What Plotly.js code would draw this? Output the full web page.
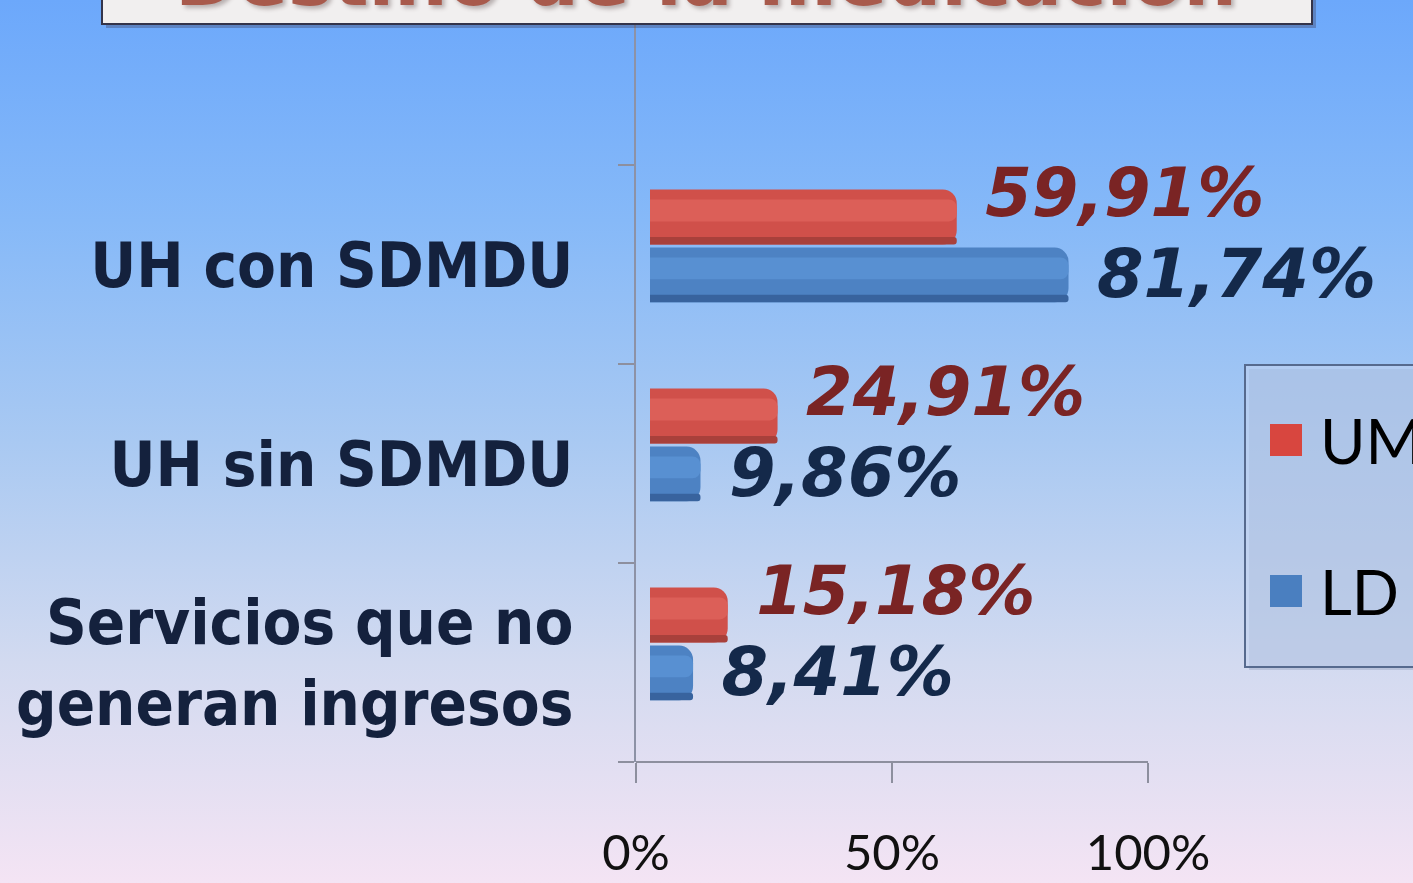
<!DOCTYPE html>
<html>
<head>
<meta charset="utf-8">
<script src="https://cdn.plot.ly/plotly-3.0.1.min.js"></script>
<style>
  html, body { margin: 0; padding: 0; }
  body { width: 1413px; height: 883px; overflow: hidden;
    background: linear-gradient(to bottom, #6ca8fb 0%, #86b9f8 25%, #a9c9f2 50%, #d2daf0 75%, #f4e4f4 100%); }
  #chart { width: 1413px; height: 883px; }
</style>
</head>
<body>
<div id="chart"></div>
<script>
// ---- data ----
const categories = ["Servicios que no<br>generan ingresos", "UH sin SDMDU", "UH con SDMDU"];
const seriesNames = ["UM", "LD"];
const umValues = [15.18, 24.91, 59.91];
const ldValues = [8.41, 9.86, 81.74];
const umLabels = ["15,18%", "24,91%", "59,91%"];
const ldLabels = ["8,41%", "9,86%", "81,74%"];
const tickVals = [0, 50, 100];
const tickLabels = ["0%", "50%", "100%"];
const titleText = "Destino de la medicación";

// ---- styling ----
const pxPerUnit = 5.12;          // pixels per percent
const plotL = 636, plotT = 24, plotB = 121, W = 1413, H = 883;
const plotW = W - plotL, plotH = H - plotT - plotB;
const barShift = 14;             // 3D shift of the bars
const bandPx = 199;
const yTop = -0.5 + plotH / bandPx;

const idx = categories.map((_, i) => i);

function cyl(xs, base, light, dark, off, wid, name) {
  return [
    { type: 'bar', orientation: 'h', x: xs, y: categories, xaxis: 'x2', yaxis: 'y',
      offset: off, width: wid, marker: { color: base, cornerradius: 14, line: { width: 0 } },
      hoverinfo: 'skip', name: name, showlegend: false },
    { type: 'bar', orientation: 'h', x: xs, y: categories, xaxis: 'x2', yaxis: 'y',
      offset: off + wid * 0.42, width: wid * 0.4, marker: { color: light, cornerradius: 8, line: { width: 0 } },
      hoverinfo: 'skip', showlegend: false },
    { type: 'bar', orientation: 'h', x: xs, y: categories, xaxis: 'x2', yaxis: 'y',
      offset: off, width: wid * 0.14, marker: { color: dark, cornerradius: 4, line: { width: 0 } },
      hoverinfo: 'skip', showlegend: false }
  ];
}

const traces = [
  ...cyl(umValues, '#d0504a', '#dc5f58', '#a8403b', 0.10, 0.277, seriesNames[0]),
  ...cyl(ldValues, '#4d82c3', '#5890d2', '#38639e', -0.19, 0.275, seriesNames[1]),
  { type: 'scatter', mode: 'markers+text', x: umValues, y: idx.map(i => i + 0.33), xaxis: 'x2', yaxis: 'y2',
    text: umLabels, textposition: 'middle right', marker: { size: 44, color: 'rgba(0,0,0,0)' },
    textfont: { family: 'DejaVu Sans', size: 67, weight: 'bold', style: 'italic', color: '#7a2424' },
    hoverinfo: 'skip', showlegend: false, cliponaxis: false },
  { type: 'scatter', mode: 'markers+text', x: ldValues, y: idx.map(i => i - 0.08), xaxis: 'x2', yaxis: 'y2',
    text: ldLabels, textposition: 'middle right', marker: { size: 44, color: 'rgba(0,0,0,0)' },
    textfont: { family: 'DejaVu Sans', size: 67, weight: 'bold', style: 'italic', color: '#14294a' },
    hoverinfo: 'skip', showlegend: false, cliponaxis: false }
];

const px2x = p => (p - plotL) / plotW;
const px2y = p => (H - plotB - p) / plotH;

const layout = {
  width: W, height: H,
  margin: { l: plotL, r: 0, t: plotT, b: plotB, pad: 0 },
  paper_bgcolor: 'rgba(0,0,0,0)', plot_bgcolor: 'rgba(0,0,0,0)',
  barmode: 'overlay',
  showlegend: false,
  xaxis: { range: [0, plotW / pxPerUnit], tickvals: tickVals, ticktext: tickLabels,
    ticks: 'outside', ticklen: 20, tickwidth: 2, tickcolor: '#8d8f9e',
    showline: false, showgrid: false, zeroline: false, ticklabelstandoff: 28,
    tickfont: { family: 'Lato', size: 49, color: '#111' }, fixedrange: true },
  xaxis2: { anchor: 'y', domain: [barShift / plotW, 1], range: [0, (plotW - barShift) / pxPerUnit],
    visible: false, fixedrange: true },
  yaxis: { type: 'category', categoryorder: 'array', categoryarray: categories,
    range: [-0.5, yTop], tickson: 'boundaries', ticks: 'outside', ticklen: 16, tickwidth: 2,
    tickcolor: '#8d8f9e', showline: true, linecolor: '#8d92a6', linewidth: 2, showgrid: false,
    ticklabelstandoff: 48,
    tickfont: { family: 'DejaVu Sans Condensed, DejaVu Sans', size: 63, weight: 'bold', color: '#14213d' },
    fixedrange: true },
  yaxis2: { anchor: 'x2', domain: [0, 1], range: [-0.5, yTop], visible: false, fixedrange: true },
  shapes: [
    // x axis line from 0% to 100%
    { type: 'line', xref: 'x', yref: 'paper', x0: -4.5, x1: 100, y0: 0, y1: 0,
      line: { color: '#8d8f9e', width: 2 } },
    // title box
    { type: 'rect', xref: 'paper', yref: 'paper', x0: px2x(106), x1: px2x(1316), y0: px2y(28), y1: px2y(-40),
      fillcolor: 'rgba(60,60,90,0.35)', line: { width: 0 } },
    { type: 'rect', xref: 'paper', yref: 'paper', x0: px2x(102), x1: px2x(1312), y0: px2y(24), y1: px2y(-40),
      fillcolor: '#f1efef', line: { color: '#34344a', width: 2 } },
    // legend box
    { type: 'rect', xref: 'paper', yref: 'paper', x0: px2x(1249), x1: px2x(1430), y0: px2y(670), y1: px2y(369),
      fillcolor: 'rgba(40,60,100,0.15)', line: { width: 0 } },
    { type: 'rect', xref: 'paper', yref: 'paper', x0: px2x(1245), x1: px2x(1430), y0: px2y(667), y1: px2y(365),
      fillcolor: 'rgba(195,212,240,0.55)', line: { color: '#566a8e', width: 2 } },
    { type: 'rect', xref: 'paper', yref: 'paper', x0: px2x(1270), x1: px2x(1302), y0: px2y(456), y1: px2y(424),
      fillcolor: '#d8463f', line: { width: 0 } },
    { type: 'rect', xref: 'paper', yref: 'paper', x0: px2x(1270), x1: px2x(1302), y0: px2y(607), y1: px2y(575),
      fillcolor: '#4a7fc0', line: { width: 0 } }
  ],
  annotations: [
    { xref: 'paper', yref: 'paper', x: px2x(1318), y: px2y(440), xanchor: 'left', yanchor: 'middle',
      text: seriesNames[0], showarrow: false, font: { family: 'Lato', size: 62, color: '#000' } },
    { xref: 'paper', yref: 'paper', x: px2x(1318), y: px2y(591), xanchor: 'left', yanchor: 'middle',
      text: seriesNames[1], showarrow: false, font: { family: 'Lato', size: 62, color: '#000' } },
    { xref: 'paper', yref: 'paper', x: px2x(706), y: px2y(-21), xanchor: 'center', yanchor: 'middle',
      text: titleText, showarrow: false,
      font: { family: 'DejaVu Sans', size: 75, weight: 'bold', color: '#a85a4c', shadow: '3px 3px 4px #b8b0b0' } }
  ]
};

Plotly.newPlot('chart', traces, layout, { displayModeBar: false, staticPlot: true });
</script>
</body>
</html>
